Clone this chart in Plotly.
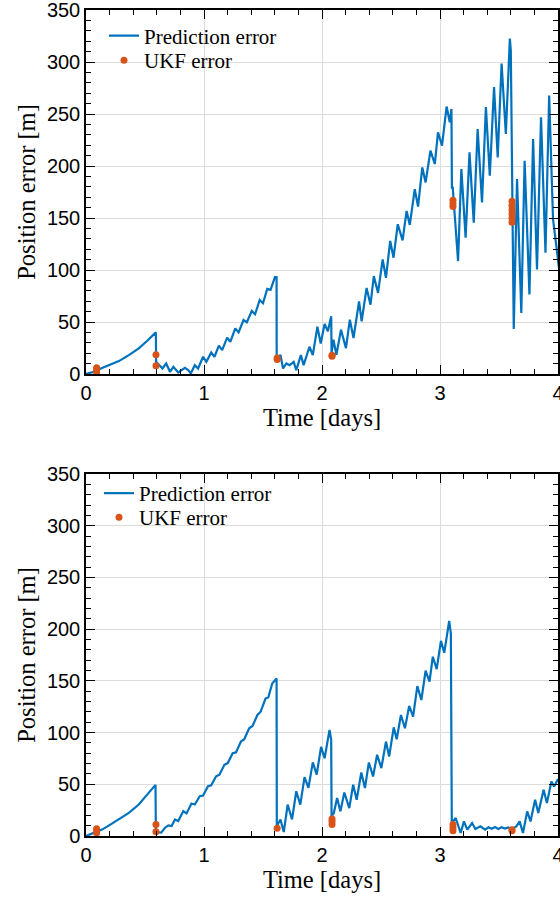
import plotly.graph_objects as go
from plotly.subplots import make_subplots

# ---------------- data ----------------
t_top = [0, 0.084, 0.126, 0.196, 0.279, 0.363, 0.447, 0.517, 0.592,
         0.594, 0.620, 0.648, 0.679, 0.712, 0.740, 0.782, 0.810, 0.838, 0.866, 0.888,
         0.922, 0.950, 0.992, 1.020, 1.061, 1.089, 1.126, 1.154, 1.196, 1.223, 1.265,
         1.293, 1.335, 1.363, 1.405, 1.433, 1.472, 1.500, 1.536, 1.564, 1.601, 1.615,
         1.616, 1.648, 1.670, 1.698, 1.726, 1.760, 1.782, 1.821, 1.844, 1.894, 1.922,
         1.961, 1.989, 2.022, 2.050, 2.078,
         2.081, 2.097, 2.122, 2.161, 2.203, 2.236, 2.267, 2.314, 2.336, 2.378, 2.411,
         2.439, 2.475, 2.514, 2.542, 2.578, 2.606, 2.642, 2.683, 2.717, 2.744, 2.786,
         2.814, 2.850, 2.878, 2.919, 2.956, 2.983, 3.017, 3.056, 3.083, 3.097,
         3.101, 3.108, 3.153, 3.181, 3.217, 3.250, 3.286, 3.319, 3.356, 3.389, 3.422,
         3.458, 3.489, 3.522, 3.558, 3.592, 3.600,
         3.625, 3.653, 3.689, 3.717, 3.758, 3.789, 3.822, 3.856, 3.894, 3.925, 3.958,
         4.000, 4.020]
e_top = [0, 2.7, 5.3, 8.5, 12.4, 18.2, 24.6, 31.7, 40.0,
         11.7, 8.5, 5.3, 10.1, 2.1, 6.9, 1.4, 3.7, 6.0, 3.7, 0.5,
         8.5, 5.3, 16.6, 11.7, 20.7, 16.6, 27.2, 23.0, 34.9, 31.0, 43.9,
         40.0, 51.9, 49.7, 60.6, 57.4, 71.2, 68.0, 81.8, 80.9, 93.1, 93.1,
         15.0, 18.2, 5.3, 10.1, 8.5, 11.7, 3.7, 18.2, 8.5, 26.2, 18.2,
         45.5, 29.4, 48.1, 41.0, 55.5,
         20.1, 33.0, 18.5, 42.6, 24.9, 52.2, 34.6, 69.9, 50.6, 82.8, 66.7,
         94.1, 78.0, 110.2, 92.5, 127.9, 111.8, 144.0, 128.5, 156.8, 143.3, 177.7,
         161.0, 198.6, 184.2, 214.7, 201.9, 232.4, 219.6, 257.2, 242.1, 254.9,
         179.3, 179.3, 108.6, 197.0, 131.1, 213.1, 145.6, 235.6, 164.9, 256.6, 190.6,
         275.9, 208.3, 298.4, 230.8, 322.5, 311.0,
         43.2, 187.4, 58.7, 205.1, 76.4, 226.0, 100.5, 246.9, 116.6, 267.8, 148.8,
         110.0, 90.0]

ukf_t_top = [0.09, 0.09, 0.09, 0.593, 0.593, 1.62, 1.62, 2.085, 2.085,
             3.11, 3.11, 3.11, 3.61, 3.61, 3.61, 3.61, 3.61, 3.61]
ukf_e_top = [2, 4, 6, 18.5, 8, 14, 15.5, 17, 18,
             161, 164, 167, 146, 150, 154, 158, 162, 166]

t_bot = [0, 0.084, 0.140, 0.196, 0.279, 0.363, 0.447, 0.531, 0.589,
         0.592, 0.637, 0.670, 0.698, 0.726, 0.754, 0.782, 0.824, 0.852, 0.894, 0.922,
         0.964, 0.992, 1.034, 1.061, 1.103, 1.131, 1.173, 1.201, 1.243, 1.271, 1.313,
         1.341, 1.383, 1.411, 1.453, 1.480, 1.522, 1.545, 1.578, 1.615,
         1.617, 1.648, 1.676, 1.709, 1.746, 1.782, 1.816, 1.852, 1.885, 1.922, 1.955,
         1.992, 2.022, 2.064, 2.078,
         2.081, 2.100, 2.128, 2.156, 2.189, 2.231, 2.264, 2.294, 2.333, 2.364, 2.397,
         2.433, 2.467, 2.503, 2.542, 2.569, 2.608, 2.633, 2.669, 2.703, 2.739, 2.772,
         2.808, 2.842, 2.878, 2.911, 2.939, 2.972, 3.008, 3.036, 3.078, 3.092,
         3.100, 3.133, 3.175, 3.203, 3.231, 3.272, 3.300, 3.342, 3.383, 3.411, 3.439,
         3.466, 3.494, 3.522, 3.550, 3.578, 3.606, 3.647, 3.675, 3.703, 3.739, 3.767,
         3.806, 3.833, 3.878, 3.906, 3.944, 3.967, 4.000]
e_bot = [0, 3.8, 6.4, 10.3, 16.0, 22.4, 30.4, 41.0, 49.4,
         3.8, 3.2, 8.0, 10.3, 9.6, 16.0, 14.4, 24.0, 21.8, 31.4, 30.4,
         38.5, 39.1, 48.1, 49.0, 57.7, 59.3, 68.9, 70.5, 80.1, 80.8, 91.3,
         93.6, 104.2, 106.4, 117.0, 120.2, 133.0, 134.0, 147.4, 152.2,
         9.6, 16.0, 3.8, 30.4, 16.0, 43.3, 30.4, 57.0, 46.5, 71.2, 59.3,
         86.2, 75.2, 102.6, 93.0,
         19.0, 22.2, 36.7, 23.8, 42.1, 27.0, 49.5, 35.0, 61.4, 46.3, 71.1,
         57.6, 78.5, 65.6, 91.3, 76.8, 105.1, 93.6, 117.0, 104.2, 125.7, 115.4,
         145.0, 131.5, 159.8, 149.2, 173.3, 161.4, 188.7, 177.2, 208.0, 195.8,
         12.5, 17.4, 2.9, 14.1, 6.1, 12.5, 6.8, 9.3, 6.1, 8.4, 7.0,
         8.6, 6.8, 8.5, 7.2, 8.3, 6.8, 9.3, 14.1, 2.9, 23.8, 14.1,
         35.0, 22.2, 44.7, 31.8, 52.7, 47.9, 55.0]

ukf_t_bot = [0.09, 0.09, 0.09, 0.593, 0.593, 1.62, 2.085, 2.085, 2.085,
             3.11, 3.11, 3.11, 3.61, 3.61]
ukf_e_bot = [3, 5, 7, 11.2, 4, 7.4, 11, 14, 16.4,
             5, 8, 11, 5, 6]

x_ticks = [0, 1, 2, 3, 4]
y_ticks = [0, 50, 100, 150, 200, 250, 300, 350]

BLUE = "#0072BD"
ORANGE = "#D95319"
SERIF = "Liberation Serif"
SANS = "Liberation Sans"

W, H = 560, 901
ML, MR, MT, MB = 86, 2, 10, 65
PW, PH = W - ML - MR, H - MT - MB


def py(p):  # pixel y -> paper y
    return (H - MB - p) / PH


def px(p):
    return (p - ML) / PW


fig = make_subplots(rows=2, cols=1)

fig.add_trace(go.Scatter(x=t_top, y=e_top, mode="lines", name="Prediction error",
                         line=dict(color=BLUE, width=2.2), legend="legend"), row=1, col=1)
fig.add_trace(go.Scatter(x=ukf_t_top, y=ukf_e_top, mode="markers", name="UKF error",
                         marker=dict(color=ORANGE, size=7), legend="legend2"), row=1, col=1)
fig.add_trace(go.Scatter(x=t_bot, y=e_bot, mode="lines", name="Prediction error",
                         line=dict(color=BLUE, width=2.2), legend="legend3"), row=2, col=1)
fig.add_trace(go.Scatter(x=ukf_t_bot, y=ukf_e_bot, mode="markers", name="UKF error",
                         marker=dict(color=ORANGE, size=7), legend="legend4"), row=2, col=1)

axis_common = dict(showline=True, linecolor="black", linewidth=1.5, mirror="allticks",
                   ticks="inside", ticklen=9, tickwidth=1.3, tickcolor="black",
                   showgrid=True, gridcolor="#dcdcdc", gridwidth=1, zeroline=False,
                   ticklabeloverflow="allow", automargin=False,
                   tickfont=dict(family=SANS, size=20, color="black"),
                   minor=dict(ticks="inside", ticklen=5, tickwidth=1.1, tickcolor="black",
                              showgrid=False))

xax = dict(axis_common, range=[0, 4], tickvals=x_ticks, minor=dict(axis_common["minor"], dtick=0.2),
           title=dict(text="Time [days]", font=dict(family=SERIF, size=24.5, color="black"), standoff=5))
yax = dict(axis_common, range=[0, 350], tickvals=y_ticks, minor=dict(axis_common["minor"], dtick=10),
           title=dict(text="Position error [m]", font=dict(family=SERIF, size=24.5, color="black"), standoff=4))


def leg(xp, yp):
    return dict(x=px(xp), y=py(yp), xanchor="left", yanchor="middle", bgcolor="rgba(0,0,0,0)",
                font=dict(family=SERIF, size=21, color="black"), borderwidth=0)


fig.update_layout(
    width=W, height=H, margin=dict(l=ML, r=MR, t=MT, b=MB, autoexpand=False),
    paper_bgcolor="white", plot_bgcolor="white",
    xaxis=dict(xax, domain=[0, 1], anchor="y"),
    yaxis=dict(yax, domain=[py(374), 1], anchor="x"),
    xaxis2=dict(xax, domain=[0, 1], anchor="y2"),
    yaxis2=dict(yax, domain=[0, py(474)], anchor="x2"),
    legend=leg(104, 36),
    legend2=leg(104, 60.5),
    legend3=leg(99, 493.5),
    legend4=leg(99, 517.5),
    showlegend=True,
)

fig.write_html("out.html")
